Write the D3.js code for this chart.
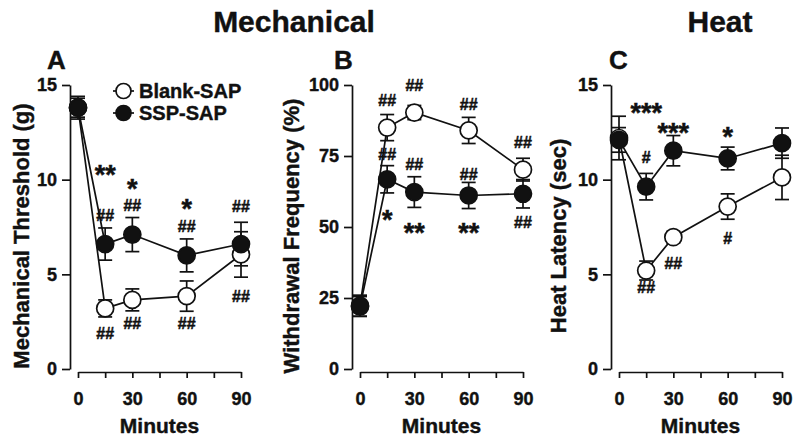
<!DOCTYPE html>
<html>
<head>
<meta charset="utf-8">
<script src="https://cdn.jsdelivr.net/npm/d3@7"></script>
<style>
  body { margin: 0; background: #fff; }
  svg text { font-family: "Liberation Sans", Arial, sans-serif; font-weight: bold; fill: #111; }
</style>
</head>
<body>
<div class="container"></div>
<script>
// Data
const minutes = [0, 15, 30, 60, 90]
const xTicks = [0, 15, 30, 45, 60, 75, 90]
const xTickLabels = [0, 30, 60, 90]
const seriesNames = ["Blank-SAP", "SSP-SAP"]

// A: mechanical threshold (g)
const mechBlank = [13.8, 3.2, 3.65, 3.85, 6.05]
const mechBlankErr = [0.6, 0.45, 0.58, 0.8, 1.2]
const mechSSP = [13.8, 6.6, 7.1, 6.0, 6.6]
const mechSSPErr = [0.5, 0.85, 0.9, 0.87, 1.15]
const mechTicks = [0, 5, 10, 15]
const mechMarks = [
    [15, 10.6, "**"], [15, 8.1, "##"], [30, 9.85, "*"], [30, 8.65, "##"],
    [60, 8.8, "*"], [60, 7.55, "##"], [90, 8.6, "##"], [90, 3.85, "##"],
    [15, 1.9, "##"], [30, 2.4, "##"], [60, 2.4, "##"]
]

// B: withdrawal frequency (%)
const freqBlank = [22.3, 85, 90.3, 84, 70.2]
const freqBlankErr = [3.7, 4.6, 2.5, 4.6, 4]
const freqSSP = [22, 66.8, 62.3, 61.1, 61.7]
const freqSSPErr = [3.5, 4.8, 5.4, 4.6, 5]
const freqTicks = [0, 25, 50, 75, 100]
const freqMarks = [
    [15, 94.5, "##"], [30, 100, "##"], [60, 93.3, "##"], [90, 79.7, "##"],
    [15, 75.6, "##"], [30, 72, "##"], [60, 68.5, "##"], [90, 51.7, "##"],
    [15, 54.8, "*"], [30, 50.3, "**"], [60, 50.3, "**"]
]

// C: heat latency (sec)
const heatBlank = [12.2, 5.2, 6.96, 8.58, 10.12]
const heatBlankErr = [1.15, 0.5, 0.3, 0.67, 1.17]
const heatSSP = [12.1, 9.63, 11.53, 11.12, 11.93]
const heatSSPErr = [0.65, 0.7, 0.8, 0.6, 0.8]
const heatTicks = [0, 5, 10, 15]
const heatMarks = [
    [15, 13.84, "***"], [15, 11.2, "#"], [30, 12.8, "***"], [60, 12.58, "*"],
    [15, 4.3, "##"], [30, 5.58, "##"], [60, 6.9, "#"]
]

const svg = d3.select(".container")
    .append("svg")
    .attr("width", 800)
    .attr("height", 444)

// Headings
svg.append("text").text("Mechanical")
    .attr("x", 294).attr("y", 32)
    .attr("text-anchor", "middle").attr("font-size", 30)
    .call(thicken)
svg.append("text").text("Heat")
    .attr("x", 720).attr("y", 32)
    .attr("text-anchor", "middle").attr("font-size", 30)
    .call(thicken)

const plotTop = 85, plotBottom = 369, xAxisY = 372

const panels = [
    {letter: "A", axisX: 70, labelX: 29, letterX: 47, label: "Mechanical Threshold (g)",
     max: 15, ticks: mechTicks, blank: mechBlank, blankErr: mechBlankErr,
     ssp: mechSSP, sspErr: mechSSPErr, marks: mechMarks, legend: true},
    {letter: "B", axisX: 352, labelX: 299, letterX: 334, label: "Withdrawal Frequency (%)",
     max: 100, ticks: freqTicks, blank: freqBlank, blankErr: freqBlankErr,
     ssp: freqSSP, sspErr: freqSSPErr, marks: freqMarks},
    {letter: "C", axisX: 611, labelX: 566, letterX: 609, label: "Heat Latency (sec)",
     max: 15, ticks: heatTicks, blank: heatBlank, blankErr: heatBlankErr,
     ssp: heatSSP, sspErr: heatSSPErr, marks: heatMarks}
]

panels.forEach(p => {
    const g = svg.append("g")

    const xScale = d3.scaleLinear()
        .domain([0, 90])
        .range([p.axisX + 8, p.axisX + 171])

    const yScale = d3.scaleLinear()
        .domain([0, p.max])
        .range([plotBottom, plotTop])

    // Axes
    const yAxis = d3.axisLeft(yScale)
        .tickValues(p.ticks)
        .tickSize(8)
        .tickSizeOuter(0)
        .tickPadding(5)

    const xAxis = d3.axisBottom(xScale)
        .tickValues(xTicks)
        .tickSize(6)
        .tickSizeOuter(0)
        .tickPadding(14)
        .tickFormat(d => xTickLabels.includes(d) ? d : "")

    const ya = g.append("g")
        .attr("transform", `translate(${p.axisX}, 0)`)
        .call(yAxis)
    ya.select(".domain").attr("stroke-width", 1.7).attr("stroke", "#111")
    ya.selectAll(".tick line").attr("stroke-width", 1.7).attr("stroke", "#111")
    ya.selectAll(".tick text").attr("font-size", 18).attr("fill", "#111")
        .attr("font-family", "Liberation Sans, Arial, sans-serif")
        .call(thicken)

    const xa = g.append("g")
        .attr("transform", `translate(0, ${xAxisY})`)
        .call(xAxis)
    xa.select(".domain").attr("stroke-width", 1.7).attr("stroke", "#111")
    xa.selectAll(".tick line").attr("stroke-width", 1.7).attr("stroke", "#111")
    xa.selectAll(".tick text").attr("font-size", 18).attr("fill", "#111")
        .attr("font-family", "Liberation Sans, Arial, sans-serif")
        .call(thicken)

    // Axis titles
    g.append("text").text("Minutes")
        .attr("x", xScale(45)).attr("y", 433)
        .attr("text-anchor", "middle").attr("font-size", 21)
        .call(thicken)

    g.append("text").text(p.label)
        .attr("transform", `translate(${p.labelX}, 236) rotate(-90)`)
        .attr("text-anchor", "middle").attr("font-size", 22)
        .call(thicken)

    g.append("text").text(p.letter)
        .attr("x", p.letterX).attr("y", 69)
        .attr("font-size", 26)
        .call(thicken)

    const line = d3.line()
        .x((d, i) => xScale(minutes[i]))
        .y(d => yScale(d))

    const series = [
        {vals: p.blank, err: p.blankErr, fill: "white"},
        {vals: p.ssp, err: p.sspErr, fill: "#111"}
    ]

    series.forEach(s => {
        g.append("path")
            .datum(s.vals)
            .attr("fill", "none")
            .attr("stroke", "#111")
            .attr("stroke-width", 1.7)
            .attr("d", line)
    })

    series.forEach(s => {
        const eb = g.append("g").attr("stroke", "#111").attr("stroke-width", 1.7)
        s.vals.forEach((v, i) => {
            const cx = xScale(minutes[i])
            const y1 = yScale(v + s.err[i]), y2 = yScale(v - s.err[i])
            eb.append("line").attr("x1", cx).attr("x2", cx).attr("y1", y1).attr("y2", y2)
            eb.append("line").attr("x1", cx - 7).attr("x2", cx + 7).attr("y1", y1).attr("y2", y1)
            eb.append("line").attr("x1", cx - 7).attr("x2", cx + 7).attr("y1", y2).attr("y2", y2)
        })
    })

    series.forEach(s => {
        g.selectAll(null)
            .data(s.vals)
            .enter()
            .append("circle")
            .attr("cx", (d, i) => xScale(minutes[i]))
            .attr("cy", d => yScale(d))
            .attr("r", 8.5)
            .attr("fill", s.fill)
            .attr("stroke", "#111")
            .attr("stroke-width", 1.7)
    })

    // significance marks; marks stacked close together share one text
    const groups = []
    p.marks.forEach(m => {
        const py = yScale(m[1])
        const near = groups.find(gr => gr.minute === m[0] &&
            gr.items.some(it => Math.abs(it.py - py) < 28))
        if (near) near.items.push({py, t: m[2]})
        else groups.push({minute: m[0], items: [{py, t: m[2]}]})
    })

    groups.forEach(gr => {
        const t = g.append("text").attr("text-anchor", "middle")
            .attr("stroke", "#111").attr("stroke-width", 0.5)
        gr.items.forEach(it => {
            const star = it.t.includes("*")
            t.append("tspan")
                .text(it.t)
                .attr("x", xScale(gr.minute))
                .attr("y", it.py)
                .attr("font-size", star ? 27 : 16)
                .attr("dy", star ? "0.57em" : "0.36em")
        })
    })

    if (p.legend) {
        const lg = g.append("g")
        seriesNames.forEach((name, i) => {
            const cy = 91 + i * 22
            lg.append("line")
                .attr("x1", 113).attr("x2", 134).attr("y1", cy).attr("y2", cy)
                .attr("stroke", "#111").attr("stroke-width", 1.7)
            lg.append("circle")
                .attr("cx", 123.5).attr("cy", cy).attr("r", 7.5)
                .attr("fill", series[i].fill)
                .attr("stroke", "#111").attr("stroke-width", 1.7)
            lg.append("text").text(name)
                .attr("x", 139).attr("y", cy + 7)
                .attr("font-size", 20)
                .call(thicken)
        })
    }
})

// a thin outline makes the bold text as heavy as in the figure
function thicken(text) {
    text.attr("stroke", "#111")
        .attr("stroke-width", 0.4)
        .attr("stroke-linejoin", "round")
}
</script>
</body>
</html>
